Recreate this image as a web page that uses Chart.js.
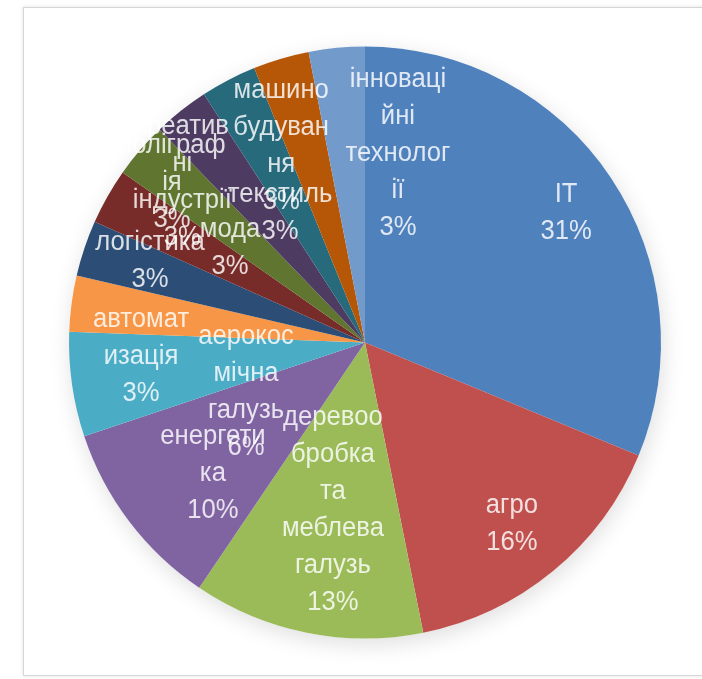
<!DOCTYPE html>
<html>
<head>
<meta charset="utf-8">
<script src="https://cdn.jsdelivr.net/npm/chart.js@4/dist/chart.umd.min.js"></script>
<style>
  html, body { margin: 0; padding: 0; background: #fff; }
  #wrap { position: relative; width: 702px; height: 679px; overflow: hidden; }
  #frame {
    position: absolute; left: 23px; top: 7px; width: 700px; height: 667px;
    border: 1px solid #d6d6d6; box-shadow: 0 0 4px rgba(0,0,0,0.12);
    background: #fff;
  }
  canvas { position: absolute; left: 0; top: 0; }
</style>
</head>
<body>
<div id="wrap">
  <div id="frame"></div>
  <canvas id="pieChart" width="702" height="679"></canvas>
</div>
<script>
// categories, in slice order (clockwise from 12 o'clock)
const categories = [
  "IT", "агро", "деревообробка та меблева галузь", "енергетика",
  "аерокосмічна галузь", "автоматизація", "логістика", "мода",
  "креативні індустрії", "поліграфія", "текстиль", "машинобудування",
  "інноваційні технології"
];
// shares (%)
const values = [31.2, 15.6, 12.6, 10.4, 5.7, 3.05, 3.05, 3.05, 3.05, 3.05, 3.05, 3.05, 3.05];
// label text as it wraps in the picture
const labelLines = [
  ["IT"], ["агро"], ["деревоо", "бробка", "та", "меблева", "галузь"],
  ["енергети", "ка"], ["аерокос", "мічна", "галузь"], ["автомат", "изація"],
  ["логістика"], ["мода"], ["креатив", "ні", "індустрії"], ["поліграф", "ія"],
  ["текстиль"], ["машино", "будуван", "ня"], ["інноваці", "йні", "технолог", "ії"]
];

const colors = [
  "#4F81BD", "#C0504D", "#9BBB59", "#8064A2", "#4BACC6", "#F79646",
  "#2C4D75", "#772C2A", "#5F7530", "#4D3B62", "#276A7C", "#B65708", "#729ACA"
];
// label placement: fraction of radius, angle shift (deg) from slice middle
const labelRadius = [0.808, 0.789, 0.576, 0.679, 0.435, 0.758, 0.777, 0.557, 0.822, 0.848, 0.523, 0.722, 0.647];
const labelShift = [1.0, 0.5, -0.5, -3.6, -14.3, -11.2, 2.3, 5.5, 0.8, -11.8, -5.8, -6.6, 15.4];

const pieLabels = {
  id: "pieLabels",
  beforeDatasetsDraw(chart) {
    const arc = chart.getDatasetMeta(0).data[0];
    if (!arc) return;
    const ctx = chart.ctx;
    ctx.save();
    ctx.shadowColor = "rgba(0,0,0,0.13)";
    ctx.shadowBlur = 22;
    ctx.shadowOffsetX = 2;
    ctx.shadowOffsetY = 6;
    ctx.fillStyle = "#fff";
    ctx.beginPath();
    ctx.arc(arc.x, arc.y, arc.outerRadius, 0, Math.PI * 2);
    ctx.fill();
    ctx.restore();
  },
  afterDatasetsDraw(chart) {
    const ctx = chart.ctx;
    const total = values.reduce((a, b) => a + b, 0);
    const lh = 37;
    ctx.save();
    ctx.font = "27px 'Liberation Sans', Arial, sans-serif";
    ctx.textAlign = "center";
    ctx.textBaseline = "middle";
    ctx.fillStyle = "rgba(255,255,255,0.82)";
    chart.getDatasetMeta(0).data.forEach((arc, i) => {
      const p = arc.getProps(["x", "y", "startAngle", "endAngle", "outerRadius"], true);
      const a = (p.startAngle + p.endAngle) / 2 + labelShift[i] * Math.PI / 180;
      const r = p.outerRadius * labelRadius[i];
      const cx = p.x + Math.cos(a) * r;
      const cy = p.y + Math.sin(a) * r;
      const lines = labelLines[i].concat(Math.round(values[i] / total * 100) + "%");
      const y0 = cy - (lines.length - 1) * lh / 2;
      lines.forEach((t, k) => {
        ctx.save();
        ctx.translate(cx, y0 + k * lh);
        ctx.scale(0.95, 1);
        ctx.fillText(t, 0, 0);
        ctx.restore();
      });
    });
    ctx.restore();
  }
};

new Chart(document.getElementById("pieChart"), {
  type: "pie",
  data: {
    labels: categories,
    datasets: [{
      data: values,
      backgroundColor: colors,
      borderWidth: 0,
      hoverOffset: 0
    }]
  },
  options: {
    responsive: false,
    animation: false,
    layout: { padding: { left: 69, right: 41, top: 46, bottom: 40 } },
    plugins: {
      legend: { display: false },
      tooltip: { enabled: false }
    }
  },
  plugins: [pieLabels]
});
</script>
</body>
</html>
